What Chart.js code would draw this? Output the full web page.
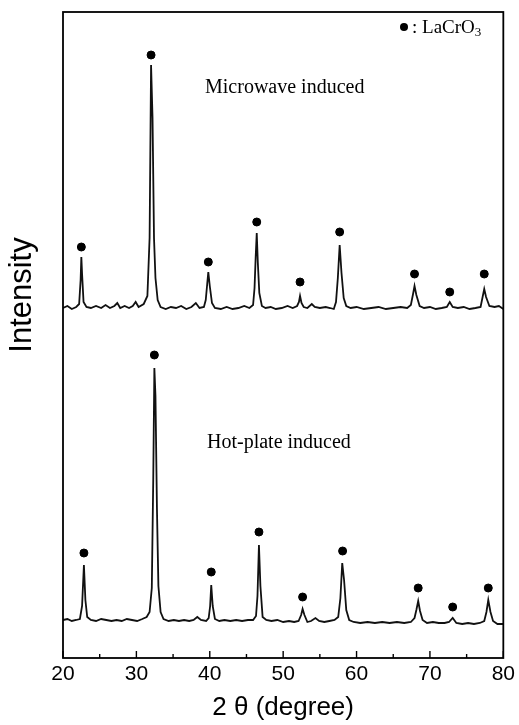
<!DOCTYPE html>
<html>
<head>
<meta charset="utf-8">
<script src="https://cdn.jsdelivr.net/npm/chart.js@4"></script>
<style>
  body { margin: 0; background: #fff; }
  canvas { display: block; }
</style>
</head>
<body>
<canvas id="grafica" width="519" height="725"></canvas>
<script>
// patrones de difraccion (2 theta en grados, intensidad en u.a. con desplazamiento)
const microondas = [
    [20.0, 350], [20.6, 352], [21.2, 349], [21.8, 351], [22.2, 354], [22.4, 378], [22.5, 401], [22.6, 384], [22.8, 356],
    [23.2, 351], [23.8, 350], [24.5, 352], [25.2, 350], [25.8, 353], [26.4, 350], [27.0, 352], [27.4, 355], [27.8, 350],
    [28.4, 352], [29.0, 350], [29.5, 352], [29.9, 356], [30.3, 351], [31.0, 354], [31.5, 362], [31.8, 420], [32.0, 593],
    [32.2, 540], [32.4, 420], [32.6, 380], [32.9, 358], [33.3, 351], [34.0, 349], [34.7, 351], [35.4, 350], [36.1, 352],
    [36.8, 349], [37.5, 351], [38.1, 355], [38.6, 350], [39.2, 351], [39.45, 358], [39.65, 374], [39.8, 386], [40.0, 372],
    [40.3, 355], [40.7, 350], [41.5, 349], [42.3, 351], [43.1, 349], [43.9, 350], [44.7, 352], [45.4, 350], [45.9, 353],
    [46.1, 370], [46.25, 400], [46.4, 425], [46.55, 395], [46.75, 365], [47.1, 352], [47.6, 350], [48.3, 351], [49.0, 349],
    [49.8, 350], [50.6, 352], [51.3, 350], [51.9, 352], [52.15, 356], [52.3, 362], [52.5, 355], [52.8, 351], [53.3, 350],
    [53.9, 354], [54.3, 351], [55.0, 350], [55.8, 351], [56.4, 350], [56.9, 349], [57.2, 356], [57.45, 380], [57.7, 413],
    [57.95, 385], [58.25, 360], [58.6, 352], [59.2, 350], [60.0, 351], [61.0, 349], [62.0, 350], [63.0, 351], [64.0, 349],
    [65.0, 350], [66.0, 351], [66.9, 350], [67.4, 353], [67.7, 364], [67.9, 372], [68.15, 363], [68.6, 352], [69.2, 350],
    [70.0, 351], [70.8, 349], [71.6, 350], [72.3, 351], [72.7, 356], [73.1, 351], [73.8, 350], [74.6, 351], [75.4, 349],
    [76.2, 350], [76.9, 351], [77.15, 360], [77.4, 369], [77.65, 361], [78.1, 352], [78.8, 351], [79.4, 352], [80.0, 349]
];

const placa = [
    [20.0, 38], [20.6, 39], [21.2, 37], [21.8, 38], [22.3, 39], [22.6, 52], [22.85, 93], [23.05, 58], [23.3, 41],
    [23.8, 38], [24.5, 37], [25.2, 39], [25.9, 38], [26.6, 37], [27.3, 38], [28.0, 37], [28.7, 39], [29.4, 38],
    [30.1, 37], [30.8, 39], [31.4, 41], [31.8, 46], [32.1, 70], [32.3, 180], [32.45, 290], [32.6, 262], [32.8, 150],
    [33.0, 72], [33.3, 46], [33.7, 39], [34.4, 37], [35.1, 38], [35.8, 37], [36.5, 38], [37.2, 37], [37.8, 38],
    [38.3, 41], [38.8, 38], [39.5, 37], [39.85, 40], [40.05, 52], [40.2, 73], [40.4, 52], [40.7, 39], [41.3, 37],
    [42.0, 38], [42.8, 37], [43.6, 38], [44.4, 37], [45.2, 38], [45.9, 38], [46.3, 42], [46.5, 62], [46.7, 113],
    [46.9, 72], [47.2, 41], [47.7, 38], [48.4, 37], [49.2, 38], [50.0, 36], [50.8, 37], [51.5, 36], [52.1, 37],
    [52.45, 43], [52.65, 49], [52.9, 43], [53.3, 36], [53.8, 37], [54.4, 40], [54.9, 37], [55.6, 36], [56.3, 37],
    [57.0, 38], [57.5, 41], [57.8, 60], [58.05, 95], [58.3, 78], [58.6, 48], [59.0, 38], [59.6, 36], [60.5, 35],
    [61.5, 36], [62.5, 35], [63.5, 36], [64.5, 35], [65.5, 36], [66.5, 35], [67.4, 36], [67.9, 40], [68.15, 48],
    [68.4, 57], [68.65, 47], [69.0, 38], [69.6, 35], [70.4, 36], [71.2, 35], [72.0, 35], [72.6, 36], [73.1, 40],
    [73.6, 35], [74.4, 34], [75.2, 35], [76.0, 34], [76.8, 35], [77.4, 37], [77.7, 46], [77.95, 58], [78.25, 46],
    [78.6, 37], [79.2, 34], [80.0, 34]
];

// posiciones de los marcadores de LaCrO3
const puntosMicroondas = [
    [22.5, 411], [32.0, 603], [39.8, 396], [46.4, 436], [52.3, 376], [57.7, 426], [67.9, 384], [72.7, 366], [77.4, 384]
];
const puntosPlaca = [
    [22.85, 105], [32.45, 303], [40.2, 86], [46.7, 126], [52.65, 61], [58.1, 107], [68.4, 70], [73.1, 51], [77.95, 70]
];

const ticksX = [20, 30, 40, 50, 60, 70, 80];
const ticksMenores = [25, 35, 45, 55, 65, 75];

const aPuntos = arr => arr.map(p => ({ x: p[0], y: p[1] }));

// marco, marcas de eje y textos
const decoracion = {
    id: 'decoracion',
    afterDraw(chart) {
        const ctx = chart.ctx;
        const area = chart.chartArea;
        const sx = chart.scales.x;
        ctx.save();
        ctx.strokeStyle = '#000';
        ctx.lineWidth = 1.8;
        ctx.strokeRect(area.left, area.top, area.right - area.left, area.bottom - area.top);

        ctx.lineWidth = 1.4;
        ticksX.forEach(v => {
            const px = sx.getPixelForValue(v);
            ctx.beginPath();
            ctx.moveTo(px, area.bottom);
            ctx.lineTo(px, area.bottom - 7);
            ctx.stroke();
        });
        ticksMenores.forEach(v => {
            const px = sx.getPixelForValue(v);
            ctx.beginPath();
            ctx.moveTo(px, area.bottom);
            ctx.lineTo(px, area.bottom - 4);
            ctx.stroke();
        });

        // titulo eje y
        ctx.fillStyle = '#000';
        ctx.font = '31px "Liberation Sans", Arial, sans-serif';
        ctx.textAlign = 'center';
        ctx.textBaseline = 'middle';
        ctx.translate(22, 295);
        ctx.rotate(-Math.PI / 2);
        ctx.fillText('Intensity', 0, 0);
        ctx.setTransform(1, 0, 0, 1, 0, 0);

        // etiquetas
        ctx.font = '20px "Liberation Serif", "Times New Roman", serif';
        ctx.textAlign = 'left';
        ctx.fillText('Microwave induced', 205, 88);
        ctx.fillText('Hot-plate induced', 207, 443);

        // leyenda
        ctx.beginPath();
        ctx.arc(404, 27, 4, 0, Math.PI * 2);
        ctx.fill();
        ctx.font = '19px "Liberation Serif", "Times New Roman", serif';
        ctx.fillText(': LaCrO', 412, 28);
        const w = ctx.measureText(': LaCrO').width;
        ctx.font = '13px "Liberation Serif", "Times New Roman", serif';
        ctx.fillText('3', 412 + w, 33);
        ctx.restore();
    }
};

new Chart(document.getElementById('grafica').getContext('2d'), {
    type: 'line',
    data: {
        datasets: [
            {
                label: 'Microwave induced',
                data: aPuntos(microondas),
                borderColor: '#111',
                borderWidth: 1.8,
                pointRadius: 0,
                tension: 0,
                fill: false
            },
            {
                label: 'Hot-plate induced',
                data: aPuntos(placa),
                borderColor: '#111',
                borderWidth: 1.8,
                pointRadius: 0,
                tension: 0,
                fill: false
            },
            {
                type: 'scatter',
                label: 'LaCrO3 (microwave)',
                data: aPuntos(puntosMicroondas),
                backgroundColor: '#000',
                borderColor: '#000',
                pointRadius: 4,
                showLine: false
            },
            {
                type: 'scatter',
                label: 'LaCrO3 (hot-plate)',
                data: aPuntos(puntosPlaca),
                backgroundColor: '#000',
                borderColor: '#000',
                pointRadius: 4,
                showLine: false
            }
        ]
    },
    options: {
        responsive: false,
        animation: false,
        devicePixelRatio: 1,
        layout: { padding: { top: 12, right: 14, left: 0, bottom: 0 } },
        plugins: {
            legend: { display: false },
            tooltip: { enabled: false },
            title: { display: false }
        },
        scales: {
            x: {
                type: 'linear',
                min: 20,
                max: 80,
                grid: { display: false, drawTicks: false },
                border: { display: false },
                ticks: {
                    stepSize: 10,
                    color: '#000',
                    padding: 4,
                    maxRotation: 0,
                    font: { family: '"Liberation Sans", Arial, sans-serif', size: 21 }
                },
                title: {
                    display: true,
                    text: '2 \u03b8 (degree)',
                    color: '#000',
                    padding: { top: 0, bottom: 2 },
                    font: { family: '"Liberation Sans", Arial, sans-serif', size: 26 }
                },
                afterFit: scale => { scale.height = 67; }
            },
            y: {
                min: 0,
                max: 646,
                grid: { display: false, drawTicks: false },
                border: { display: false },
                ticks: { display: false },
                afterFit: scale => { scale.width = 63; }
            }
        }
    },
    plugins: [decoracion]
});
</script>
</body>
</html>
